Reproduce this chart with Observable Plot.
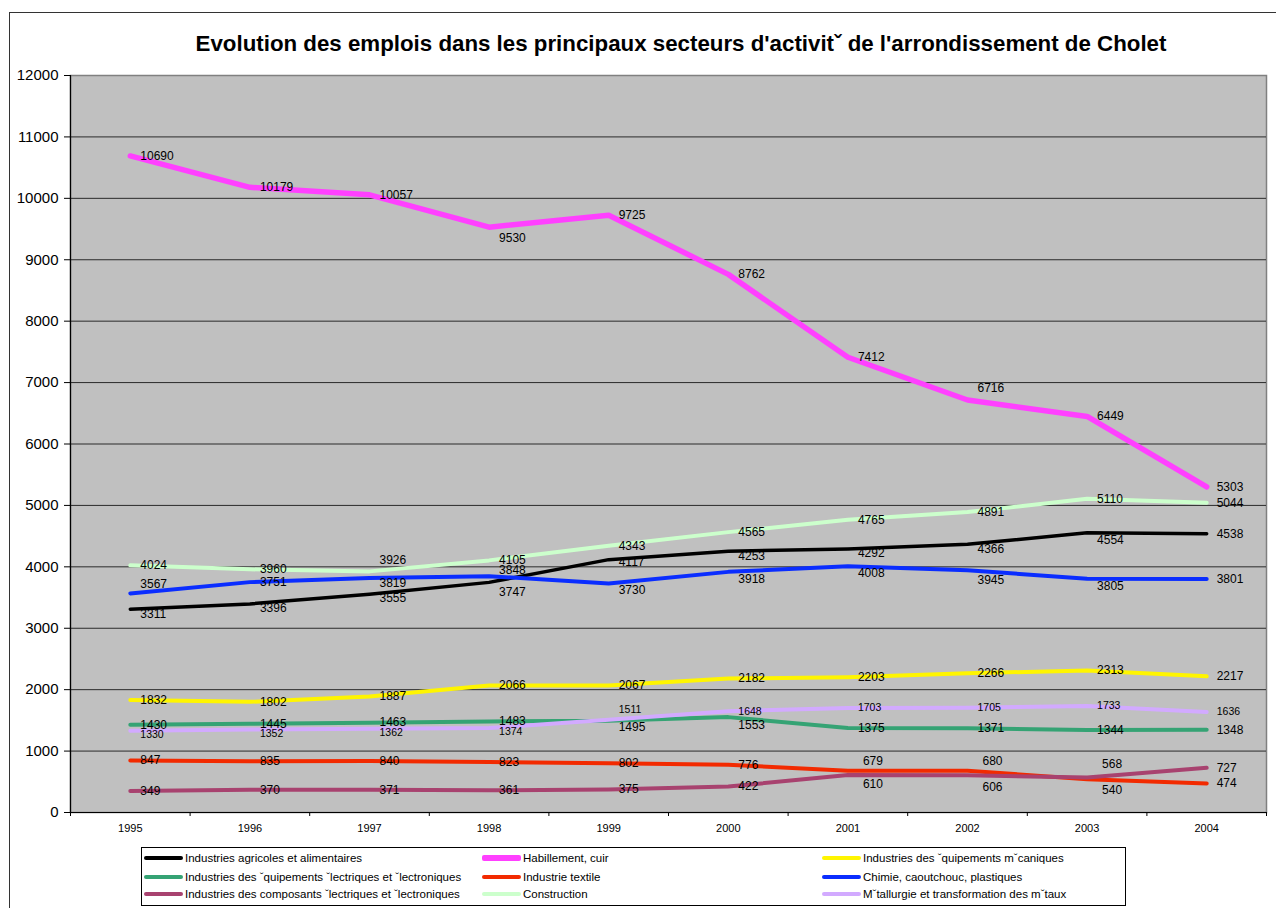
<!DOCTYPE html>
<html>
<head>
<meta charset="utf-8">
<script src="https://cdn.jsdelivr.net/npm/d3@7"></script>
<script src="https://cdn.jsdelivr.net/npm/@observablehq/plot@0.6"></script>
<style>
  html, body { margin: 0; padding: 0; background: #fff; overflow: hidden; }
  body { width: 1276px; height: 908px; position: relative; font-family: "Liberation Sans", Arial, Helvetica, sans-serif; }
  #frame { position: absolute; left: 9px; top: 12px; width: 1300px; height: 950px; border: 1px solid #333; box-sizing: border-box; }
  #title { position: absolute; left: 0; width: 1362px; top: 31px; text-align: center; font-weight: bold; font-size: 22.3px; color: #000; }
  #chart { position: absolute; left: 0; top: 60px; }
  #legend { position: absolute; left: 141px; top: 847px; width: 985px; height: 59px; border: 1px solid #000; box-sizing: border-box; background: #fff; }
  .item { position: absolute; height: 16px; font-size: 11.5px; line-height: 16px; white-space: nowrap; color: #000; }
  .sw { position: absolute; left: 0; width: 39px; border-radius: 2px; }
  .lab { position: absolute; left: 41px; top: 0; }
</style>
</head>
<body>
<div id="frame"></div>
<div id="title">Evolution des emplois dans les principaux secteurs d'activitˇ de l'arrondissement de Cholet</div>
<div id="chart"></div>
<div id="legend"></div>
<script>
// ---------- data ----------
const years = [1995, 1996, 1997, 1998, 1999, 2000, 2001, 2002, 2003, 2004];
const yTicks = [0, 1000, 2000, 3000, 4000, 5000, 6000, 7000, 8000, 9000, 10000, 11000, 12000];

const seriesNames = [
  "Industries agricoles et alimentaires",
  "Habillement, cuir",
  "Industries des ˇquipements mˇcaniques",
  "Industries des ˇquipements ˇlectriques et ˇlectroniques",
  "Industrie textile",
  "Chimie, caoutchouc, plastiques",
  "Industries des composants ˇlectriques et ˇlectroniques",
  "Construction",
  "Mˇtallurgie et transformation des mˇtaux"
];

const agricoles   = [3311, 3396, 3555, 3747, 4117, 4253, 4292, 4366, 4554, 4538];
const habillement = [10690, 10179, 10057, 9530, 9725, 8762, 7412, 6716, 6449, 5303];
const mecaniques  = [1832, 1802, 1887, 2066, 2067, 2182, 2203, 2266, 2313, 2217];
const electriques = [1430, 1445, 1463, 1483, 1495, 1553, 1375, 1371, 1344, 1348];
const textile     = [847, 835, 840, 823, 802, 776, 679, 680, 540, 474];
const chimie      = [3567, 3751, 3819, 3848, 3730, 3918, 4008, 3945, 3805, 3801];
const composants  = [349, 370, 371, 361, 375, 422, 610, 606, 568, 727];
const construction= [4024, 3960, 3926, 4105, 4343, 4565, 4765, 4891, 5110, 5044];
const metallurgie = [1330, 1352, 1362, 1374, 1511, 1648, 1703, 1705, 1733, 1636];

const seriesValues = [agricoles, habillement, mecaniques, electriques, textile, chimie, composants, construction, metallurgie];

// ---------- styles ----------
const colors = ["#000000", "#FF40FF", "#FFF500", "#35A374", "#F22A00", "#0A2DFF", "#A8426F", "#CCFFCC", "#D2AAFF"];
const widths = [3.5, 5.5, 4, 4, 4, 4, 4, 4, 4];
// vertical nudges (px) of the value labels, per series / year
const labelDy = [
  [5, 4, 4, 10, 3, 5, 4, 5, 7, 0],
  [0, 0, 0, 11, 0, 0, 0, -12, 0, 0],
  [0, 0, 0, 0, 0, 0, 0, 0, 0, 0],
  [0, 0, 0, 0, 6, 8, 0, 0, 0, 0],
  [0, 0, 0, 0, 0, 0, -10, -10, 11, 0],
  [-9, 0, 5, -6, 7, 7, 7, 10, 7, 0],
  [0, 0, 0, 0, 0, 0, 9, 12, -13, 0],
  [0, 0, -11, 0, 0, 0, 0, 0, 0, 0],
  [4, 4, 4, 4, -10, 0, 0, 0, 0, 0]
];

// ---------- long table ----------
const rows = [];
seriesNames.forEach((name, s) => {
  years.forEach((yr, i) => {
    const dy = labelDy[s][i];
    rows.push({series: name, idx: s, year: yr, value: seriesValues[s][i], dy, dx: dy !== 0 && (s === 4 || s === 6) ? 15 : 10});
  });
});

const boundaries = d3.range(years.length + 1).map(i => years[0] - 0.5 + i);

const marks = [
  Plot.frame({fill: "#C0C0C0", stroke: "#808080", strokeWidth: 1.5}),
  Plot.ruleY(yTicks.filter(t => t > 0 && t < 12000), {stroke: "#2a2a2a", strokeWidth: 1}),
  Plot.axisY({ticks: yTicks, tickSize: 6, tickPadding: 6, fontSize: 15, tickFormat: d => String(d), stroke: "#000", label: null}),
  Plot.axisX({ticks: years, tickSize: 0, tickPadding: 12, fontSize: 11, tickFormat: d => String(d), label: null}),
  Plot.axisX({ticks: boundaries, tickSize: 4, tickFormat: () => "", stroke: "#000", label: null}),
  Plot.ruleX([boundaries[0]], {stroke: "#000", strokeWidth: 1.2}),
  Plot.ruleY([0], {stroke: "#000", strokeWidth: 1.2}),
];

seriesNames.forEach((name, s) => {
  marks.push(Plot.line(rows.filter(r => r.idx === s), {
    x: "year", y: "value", stroke: colors[s], strokeWidth: widths[s], strokeLinejoin: "round", strokeLinecap: "round"
  }));
});

// labels grouped by offset
const groups = d3.groups(rows, r => r.dx + "," + r.dy + "," + (r.idx === 8 ? "s" : "n"));
groups.forEach(([key, g]) => {
  const [dx, dy, sz] = key.split(",");
  marks.push(Plot.text(g, {
    x: "year", y: "value", text: d => String(d.value),
    dx: +dx, dy: +dy, textAnchor: "start", fill: "#000",
    fontSize: sz === "s" ? 10.5 : 12
  }));
});

const chart = Plot.plot({
  width: 1276,
  height: 782,
  marginLeft: 70,
  marginRight: 10,
  marginTop: 15,
  marginBottom: 30,
  style: {fontFamily: "'Liberation Sans', Arial, Helvetica, sans-serif", background: "transparent", color: "#000"},
  x: {domain: [years[0] - 0.5, years[years.length - 1] + 0.5], axis: null, label: null},
  y: {domain: [0, 12000], axis: null, label: null},
  marks
});
document.getElementById("chart").appendChild(chart);

// ---------- legend ----------
const legend = document.getElementById("legend");
const colX = [2, 340, 680];
const rowY = [2, 21, 38];
seriesNames.forEach((name, s) => {
  const item = document.createElement("div");
  item.className = "item";
  item.style.left = colX[s % 3] + "px";
  item.style.top = rowY[Math.floor(s / 3)] + "px";
  const sw = document.createElement("div");
  sw.className = "sw";
  const h = s === 1 ? 6 : 4;
  sw.style.height = h + "px";
  sw.style.top = (8 - h / 2) + "px";
  sw.style.background = colors[s];
  const lab = document.createElement("div");
  lab.className = "lab";
  lab.textContent = name;
  item.appendChild(sw);
  item.appendChild(lab);
  legend.appendChild(item);
});
</script>
</body>
</html>
